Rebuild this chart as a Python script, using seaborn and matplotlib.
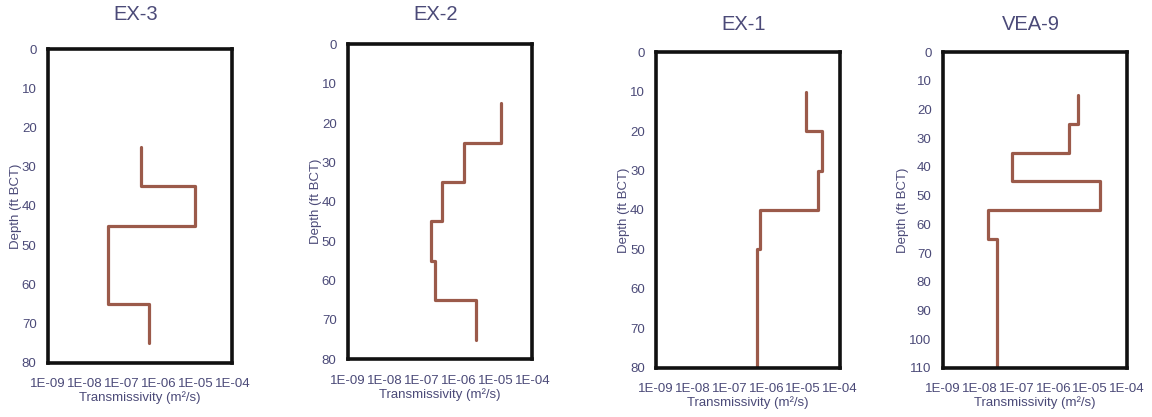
import numpy as np
import pandas as pd
import matplotlib
matplotlib.use("Agg")
import matplotlib.pyplot as plt
import seaborn as sns
from matplotlib.ticker import FixedLocator, FuncFormatter

# well names, test interval boundaries (ft BCT) and transmissivity per interval (m2/s)
wells = ["EX-3", "EX-2", "EX-1", "VEA-9"]

ex3_depth = [25, 35, 45, 65, 75]
ex3_T = [3.3e-7, 1.0e-5, 4.4e-8, 5.6e-7]

ex2_depth = [15, 25, 35, 45, 55, 65, 75]
ex2_T = [1.4e-5, 1.4e-6, 3.5e-7, 1.85e-7, 2.3e-7, 3.0e-6]

ex1_depth = [10, 20, 30, 40, 50, 80]
ex1_T = [1.2e-5, 3.3e-5, 2.6e-5, 6.8e-7, 5.4e-7]

vea9_depth = [15, 25, 35, 45, 55, 65, 110]
vea9_T = [4.6e-6, 2.6e-6, 7.6e-8, 1.8e-5, 1.66e-8, 2.9e-8]

depth_max = [80, 80, 80, 110]
x_ticks = [1e-9, 1e-8, 1e-7, 1e-6, 1e-5, 1e-4]

profiles = {
    "EX-3": (ex3_depth, ex3_T),
    "EX-2": (ex2_depth, ex2_T),
    "EX-1": (ex1_depth, ex1_T),
    "VEA-9": (vea9_depth, vea9_T),
}

TEXT = "#4b4a78"
LINE = "#9b5a4a"

sns.set_style("white")
plt.rcParams["font.family"] = ["Liberation Sans", "DejaVu Sans"]


def step_frame(depths, values):
    # vertical segment over each interval, joined horizontally at the boundaries
    rows = []
    for i, v in enumerate(values):
        rows.append((v, depths[i]))
        rows.append((v, depths[i + 1]))
    return pd.DataFrame(rows, columns=["T", "depth"])


# axes boxes in figure pixels: left, right, top, bottom
boxes = [
    (47.7, 232.3, 49.3, 362.7),
    (347.7, 532.3, 44.3, 359.3),
    (656.0, 840.0, 52.3, 367.7),
    (942.7, 1127.0, 52.3, 367.7),
]
title_y = [15, 15, 24, 24]

W, H = 1152, 417
fig = plt.figure(figsize=(W / 100, H / 100), dpi=100)

for k, well in enumerate(wells):
    l, r, t, b = boxes[k]
    ax = fig.add_axes([l / W, 1 - b / H, (r - l) / W, (b - t) / H])
    depths, values = profiles[well]
    df = step_frame(depths, values)
    sns.lineplot(data=df, x="T", y="depth", sort=False, estimator=None,
                 color=LINE, linewidth=2.3, ax=ax)
    ax.set_xscale("log")
    ax.set_xlim(1e-9, 1e-4)
    ax.set_ylim(depth_max[k], 0)
    ax.xaxis.set_major_locator(FixedLocator(x_ticks))
    ax.xaxis.set_minor_locator(FixedLocator([]))
    ax.xaxis.set_major_formatter(FuncFormatter(lambda v, p: "1E-%02d" % round(-np.log10(v))))
    ax.set_yticks(np.arange(0, depth_max[k] + 1, 10))
    ax.tick_params(axis="both", length=0, labelsize=9.5, colors=TEXT)
    ax.tick_params(axis="x", pad=11)
    ax.tick_params(axis="y", pad=8)
    ax.set_xlabel("Transmissivity (m²/s)", fontsize=9.5, color=TEXT, labelpad=1)
    ax.set_ylabel("Depth (ft BCT)", fontsize=9.5, color=TEXT, labelpad=0)
    for s in ax.spines.values():
        s.set_visible(True)
        s.set_color("#111111")
        s.set_linewidth(2.6)
    cx = (l + r) / 2 - 4
    fig.text(cx / W, 1 - title_y[k] / H, well, ha="center", va="center",
             fontsize=14.5, color=TEXT)

fig.savefig("out.png", dpi=100)
